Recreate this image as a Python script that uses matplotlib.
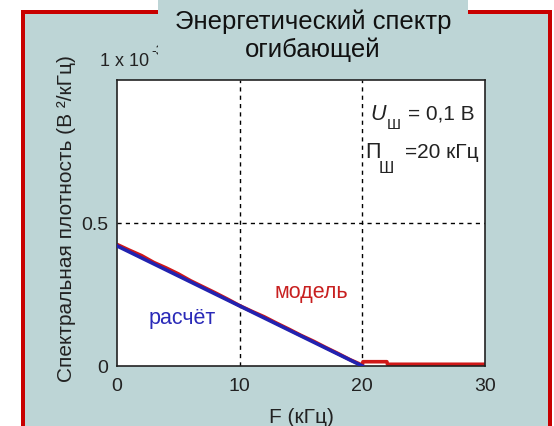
import matplotlib
matplotlib.use("Agg")
import matplotlib.pyplot as plt
from matplotlib.patches import Rectangle

plt.rcParams['font.family'] = ['Liberation Sans', 'DejaVu Sans']

# --- data ---
freq_calc = [0, 20]
dens_calc = [0.42, 0.0]

freq_model = [0, 1, 2, 3, 4, 5, 6, 7, 8, 9, 10, 11, 12, 13, 14, 15, 16, 17, 18,
              19, 20, 20.05, 22, 22.05, 30]
dens_model = [0.425, 0.405, 0.386, 0.362, 0.343, 0.322, 0.298, 0.277, 0.256,
              0.234, 0.211, 0.191, 0.172, 0.150, 0.129, 0.107, 0.087, 0.065,
              0.044, 0.022, 0.003, 0.015, 0.015, 0.006, 0.006]

x_ticks = [0, 10, 20, 30]
x_ticklabels = ["0", "10", "20", "30"]
y_ticks = [0, 0.5]
y_ticklabels = ["0", "0.5"]

W, H = 554, 427
PANEL = "#bdd5d6"
RED = "#c80000"
INK = "#222222"

fig = plt.figure(figsize=(W / 100, H / 100), dpi=100)
fig.patch.set_facecolor("white")


def px_rect(x0, y0, x1, y1, **kw):
    """Rectangle given in pixel coordinates (origin top-left)."""
    r = Rectangle((x0 / W, 1 - y1 / H), (x1 - x0) / W, (y1 - y0) / H,
                  transform=fig.transFigure, **kw)
    fig.add_artist(r)
    return r


# frame: red border and tinted panel
px_rect(21, 11, 552, 440, facecolor=RED, edgecolor="none", zorder=0)
px_rect(25, 15, 548, 440, facecolor=PANEL, edgecolor="none", zorder=0.1)

# plot area
ax = fig.add_axes([117 / W, 1 - 367 / H, (485 - 117) / W, (367 - 81) / H])
ax.set_zorder(2)
ax.set_facecolor("white")
ax.set_xlim(0, 30)
ax.set_ylim(0, 1)
for s in ax.spines.values():
    s.set_linewidth(1.2)
    s.set_color(INK)

ax.set_xticks(x_ticks)
ax.set_xticklabels(x_ticklabels)
ax.set_yticks(y_ticks)
ax.set_yticklabels(y_ticklabels)
ax.tick_params(length=0, labelsize=14, colors=INK)
ax.tick_params(axis="x", pad=8)
ax.tick_params(axis="y", pad=6.5)

for xv in [10, 20]:
    ax.axvline(xv, color="black", lw=1.0, ls=(0, (3, 3)), zorder=1)
ax.axhline(0.5, color="black", lw=1.0, ls=(0, (3, 3)), zorder=1)

ax.plot(freq_model, dens_model, color="#d01818", lw=2.6, zorder=2,
        solid_capstyle="butt")
ax.plot(freq_calc, dens_calc, color="#2222b0", lw=2.6, zorder=3)

ax.text(15.8, 0.262, "модель", color="#c82020", fontsize=15.5,
        ha="center", va="center")
ax.text(5.3, 0.171, "расчёт", color="#2a2ab8", fontsize=15.5,
        ha="center", va="center")

# noise parameters
ax.text(20.62, 0.883, "U", fontsize=15.5, style="italic", ha="left",
        va="center", color=INK)
ax.text(22.0, 0.845, "Ш", fontsize=11, ha="left", va="center", color=INK)
ax.text(23.72, 0.883, "= 0,1 В", fontsize=15, ha="left", va="center",
        color=INK)
ax.text(20.2, 0.75, "П", fontsize=15.5, ha="left", va="center", color=INK)
ax.text(21.3, 0.695, "Ш", fontsize=12, ha="left", va="center", color=INK)
ax.text(23.47, 0.75, "=20 кГц", fontsize=15, ha="left", va="center",
        color=INK)

ax.set_xlabel("F (кГц)", fontsize=15, color=INK, labelpad=9)

fig.text(67 / W, 1 - 219 / H, "Спектральная плотность (В ²/кГц)",
         rotation=90, fontsize=15, ha="center", va="center", color=INK,
         zorder=3)

# axis scale factor
fig.text(100 / W, 1 - 62 / H, "1 x 10", fontsize=13, ha="left", va="center",
         color=INK, zorder=3)
fig.text(151 / W, 1 - 51 / H, "-3", fontsize=10, ha="left", va="center",
         color=INK, zorder=3)

# title box
px_rect(158, -5, 468, 68, facecolor=PANEL, edgecolor="none", zorder=5)
fig.text(313 / W, 1 - 22 / H, "Энергетический спектр", fontsize=18.5,
         ha="center", va="center", color="#111111", zorder=6)
fig.text(313 / W, 1 - 50 / H, "огибающей", fontsize=18.5,
         ha="center", va="center", color="#111111", zorder=6)

fig.savefig("out.png", dpi=100)
